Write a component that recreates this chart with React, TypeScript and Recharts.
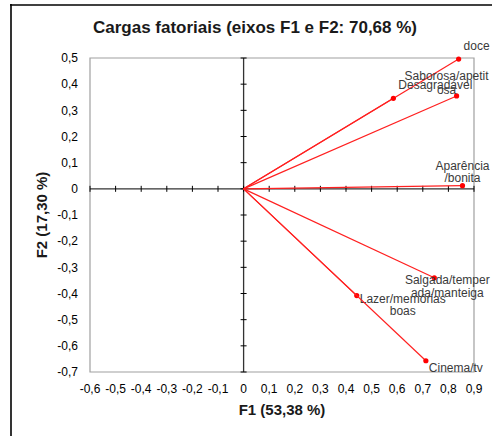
import React from 'react';
import { ScatterChart, Scatter, XAxis, YAxis, ReferenceLine, ReferenceArea, Label } from 'recharts';

const CATEGORIES = ['doce', 'Desagradável', 'Saborosa/apetitosa', 'Aparência/bonita', 'Salgada/temperada/manteiga', 'Lazer/memórias boas', 'Cinema/tv'];
const F1 = [0.84, 0.585, 0.832, 0.855, 0.745, 0.442, 0.712];
const F2 = [0.496, 0.346, 0.355, 0.012, -0.34, -0.408, -0.657];
const X_TICKS = [-0.6, -0.5, -0.4, -0.3, -0.2, -0.1, 0, 0.1, 0.2, 0.3, 0.4, 0.5, 0.6, 0.7, 0.8, 0.9];
const Y_TICKS = [-0.7, -0.6, -0.5, -0.4, -0.3, -0.2, -0.1, 0, 0.1, 0.2, 0.3, 0.4, 0.5];
const TITLE = 'Cargas fatoriais (eixos F1 e F2: 70,68 %)';
const X_TITLE = 'F1 (53,38 %)';
const Y_TITLE = 'F2 (17,30 %)';

// label layout (styling): wrapped lines and pixel offsets from each point
const LABEL_LAYOUT: Record<string, { lines: string[]; dx: number; dy: number[] }> = {
  'doce': { lines: ['doce'], dx: 18, dy: [-9] },
  'Desagradável': { lines: ['Desagradável'], dx: 42, dy: [-9] },
  'Saborosa/apetitosa': { lines: ['Saborosa/apetit', 'osa'], dx: -10, dy: [-16, -2] },
  'Aparência/bonita': { lines: ['Aparência', '/bonita'], dx: 0, dy: [-16, -4] },
  'Salgada/temperada/manteiga': { lines: ['Salgada/temper', 'ada/manteiga'], dx: 13, dy: [6, 19] },
  'Lazer/memórias boas': { lines: ['Lazer/memórias', 'boas'], dx: 46, dy: [7, 19] },
  'Cinema/tv': { lines: ['Cinema/tv'], dx: 30, dy: [11] },
};

const FONT = '"Liberation Sans", Arial, sans-serif';
const fmt = (v: number) => (Math.abs(v) < 1e-9 ? '0' : v.toFixed(1).replace('.', ','));
const TX = 0.0117; // half tick length in x units
const TY = 0.0115; // half tick length in y units

const PointShape = (props: any) => {
  const { cx, cy, payload } = props;
  if (!payload || !payload.end) return <g />;
  const lay = LABEL_LAYOUT[payload.name];
  return (
    <g>
      <circle cx={cx} cy={cy} r={2.6} fill="#ff0000" />
      {lay.lines.map((ln, i) => (
        <text key={i} x={cx + lay.dx} y={cy + lay.dy[i]} textAnchor="middle" fontSize={12} fontFamily={FONT} fill="#3a3a3a">
          {ln}
        </text>
      ))}
    </g>
  );
};

export default function App() {
  const series = CATEGORIES.map((name, i) => [
    { x: 0, y: 0, name, end: false },
    { x: F1[i], y: F2[i], name, end: true },
  ]);
  return (
    <div style={{ position: 'absolute', left: 0, top: 0, width: 492, height: 436, background: '#fff' }}>
      <svg width={492} height={436} style={{ position: 'absolute', left: 0, top: 0 }}>
        <line x1={10} y1={5} x2={492} y2={5} stroke="#000" strokeWidth={1.6} />
        <line x1={11} y1={4} x2={11} y2={436} stroke="#000" strokeWidth={1.6} />
        <text x={255} y={33} textAnchor="middle" fontSize={17} fontWeight="bold" fontFamily={FONT} fill="#1a1a1a">
          {TITLE}
        </text>
      </svg>
      <div style={{ position: 'absolute', left: 0, top: 0 }}>
        <ScatterChart width={492} height={436} margin={{ top: 58, right: 18, bottom: 34, left: 30 }} style={{ overflow: 'visible' }}>
          <XAxis
            type="number"
            dataKey="x"
            domain={[-0.6, 0.9]}
            ticks={X_TICKS}
            interval={0}
            axisLine={false}
            tickLine={false}
            tickSize={6}
            tickMargin={6}
            tickFormatter={fmt}
            tick={{ fontSize: 12, fill: '#000', fontFamily: FONT }}
            height={30}
          >
            <Label
              content={(p: any) => {
                const vb = p.viewBox;
                return (
                  <text x={vb.x + vb.width / 2} y={vb.y + 43} textAnchor="middle" fontSize={15} fontWeight="bold" fontFamily={FONT} fill="#1a1a1a">
                    {X_TITLE}
                  </text>
                );
              }}
            />
          </XAxis>
          <YAxis
            type="number"
            dataKey="y"
            domain={[-0.7, 0.5]}
            ticks={Y_TICKS}
            interval={0}
            axisLine={false}
            tickLine={false}
            tickSize={6}
            tickMargin={6}
            tickFormatter={fmt}
            tick={{ fontSize: 12, fill: '#000', fontFamily: FONT }}
            width={60}
          >
            <Label
              content={(p: any) => {
                const vb = p.viewBox;
                const cx = 47;
                const cy = vb.y + vb.height / 2;
                return (
                  <text x={cx} y={cy} transform={`rotate(-90 ${cx} ${cy})`} textAnchor="middle" fontSize={15} fontWeight="bold" fontFamily={FONT} fill="#1a1a1a">
                    {Y_TITLE}
                  </text>
                );
              }}
            />
          </YAxis>
          <ReferenceArea x1={-0.6} x2={0.9} y1={-0.7} y2={0.5} fill="none" fillOpacity={0} stroke="#a0a0a0" strokeWidth={1.2} ifOverflow="visible" />
          <ReferenceLine y={0} stroke="#333" strokeWidth={1.3} ifOverflow="visible" />
          <ReferenceLine x={0} stroke="#333" strokeWidth={1.3} ifOverflow="visible" />
          {X_TICKS.map((t) => (
            <ReferenceLine key={'xt' + t} segment={[{ x: t, y: -TY }, { x: t, y: TY }]} stroke="#000" strokeWidth={1} ifOverflow="visible" />
          ))}
          {Y_TICKS.map((t) => (
            <ReferenceLine key={'yt' + t} segment={[{ x: -TX, y: t }, { x: TX, y: t }]} stroke="#000" strokeWidth={1} ifOverflow="visible" />
          ))}
          {series.map((d, i) => (
            <Scatter
              key={CATEGORIES[i]}
              data={d}
              line={{ stroke: '#ff2020', strokeWidth: 1.2 }}
              shape={PointShape}
              isAnimationActive={false}
            />
          ))}
        </ScatterChart>
      </div>
    </div>
  );
}
